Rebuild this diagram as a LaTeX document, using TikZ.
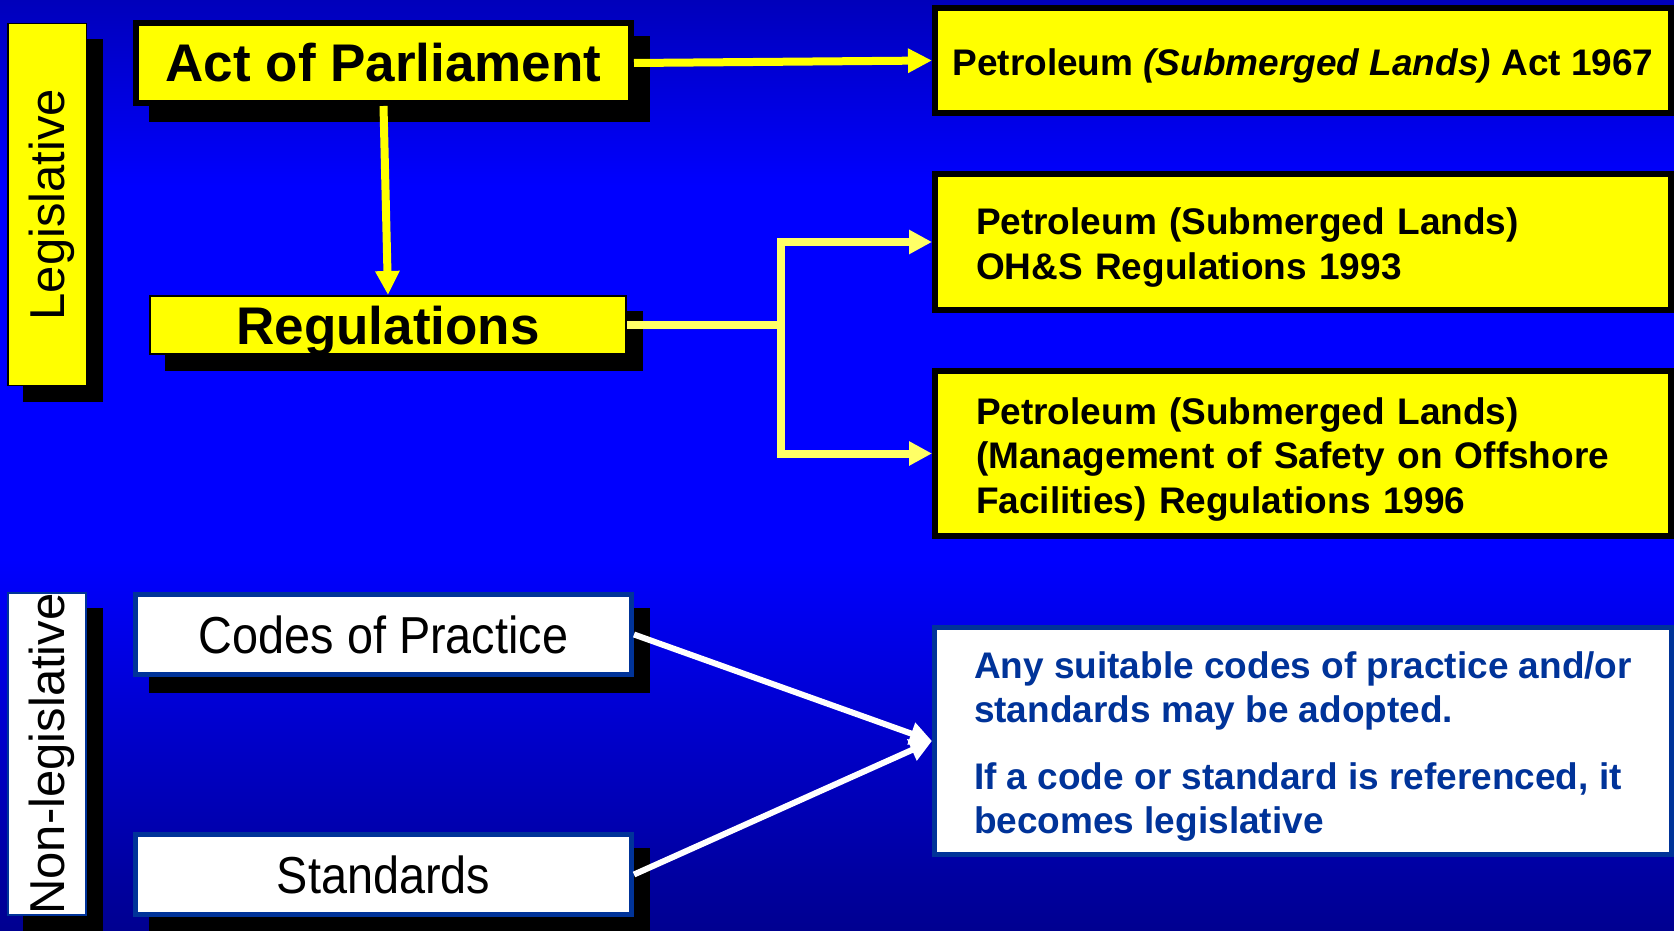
\documentclass[tikz,border=0pt]{standalone}
\usepackage{fontspec}
\setmainfont{Liberation Sans}
\newfontfamily\narrowsans[FakeStretch=0.9]{Liberation Sans}
\usepackage{graphicx}
\usepackage{tikz}
\usetikzlibrary{calc}
\usetikzlibrary{arrows.meta}
\usetikzlibrary{backgrounds}

\definecolor{slidetop}{HTML}{0000BB}
\definecolor{slideblue}{HTML}{0000FF}
\definecolor{slidebottom}{HTML}{000090}
\definecolor{lawyellow}{HTML}{FFFF00}
\definecolor{paleyellow}{HTML}{FFFF66}
\definecolor{navytext}{HTML}{003399}

\pgfdeclareverticalshading{slidebg}{100bp}{color(0bp)=(slidebottom); color(25bp)=(slidebottom); color(45bp)=(slideblue); color(65bp)=(slideblue); color(75bp)=(slidetop); color(100bp)=(slidetop)}

% first line strut, pushes box text a little down
\newcommand{\toprule}{\rule{0pt}{38pt}}
% rotated side label, arguments: text
\newcommand{\sidetext}[1]{\rotatebox{90}{\rule{0pt}{46pt}#1}}

\begin{document}
\begin{tikzpicture}[x=1pt, y=-1pt]

% arguments: name of box
\newcommand{\castshadow}[1]{%
\fill [black] ($ (#1.north west) + (16, 16) $) rectangle ($ (#1.south east) + (16, 16) $) ;
}

\tikzset{%
lawbox/.style={rectangle, fill=lawyellow, draw=black, inner sep=0pt, text=black},
codebox/.style={rectangle, fill=white, draw=navytext, inner sep=0pt},
sidelabel/.style={font=\fontsize{49}{55}\selectfont},
headlabel/.style={font=\fontsize{53}{60}\selectfont\bfseries, text height=38pt, text depth=0pt},
codelabel/.style={font=\narrowsans\fontsize{52}{60}\selectfont, text height=37pt, text depth=0pt},
actlabel/.style={font=\fontsize{37}{44.5}\selectfont\bfseries},
lawarrow/.style={draw=lawyellow, line width=8pt, -{Triangle[length=24pt, width=23pt]}},
splitline/.style={draw=paleyellow, line width=8pt},
splitarrow/.style={splitline, -{Triangle[length=23pt, width=23pt]}},
notearrow/.style={draw=white, line width=6pt, -{Triangle[length=22pt, width=22pt]}}%
}

\useasboundingbox (0, 0) rectangle (1674, 931) ;

% legislative side

\path (47, 204.5) node [lawbox, sidelabel, line width=1.5pt, minimum width=78.5, minimum height=361.5] (leg) {\sidetext{Legislative}} ;

\path (383.5, 63) node [lawbox, headlabel, line width=6pt, minimum width=495, minimum height=80] (act) {Act of Parliament} ;

\path (388, 325) node [lawbox, headlabel, line width=2pt, minimum width=476, minimum height=58] (regs) {Regulations} ;

\path (1303, 60.5) node [lawbox, actlabel, line width=6pt, minimum width=736, minimum height=105] (pslact) {\toprule Petroleum \textit{(Submerged Lands)} Act 1967} ;

\path (1303, 242) node [lawbox, actlabel, line width=6pt, minimum width=736, minimum height=136, text width=654, align=left] (ohs) {\toprule Petroleum (Submerged Lands)\\OH\&S Regulations 1993} ;

\path (1303, 453.5) node [lawbox, actlabel, line width=6pt, minimum width=736, minimum height=165, text width=654, align=left] (mos) {\toprule Petroleum (Submerged Lands)\\(Management of Safety on Offshore\\Facilities) Regulations 1996} ;

% non-legislative side

\path (47, 754) node [codebox, sidelabel, line width=2pt, minimum width=78, minimum height=318] (nonleg) {\sidetext{Non-legislative}} ;

\path (383.5, 634.5) node [codebox, codelabel, line width=5pt, minimum width=496, minimum height=80] (codes) {Codes of Practice} ;

\path (383.5, 874.5) node [codebox, codelabel, line width=5pt, minimum width=496, minimum height=80] (stds) {Standards} ;

\path (1303, 741) node [codebox, actlabel, text=navytext, line width=5pt, minimum width=737, minimum height=227, align=left] (note) {\toprule Any suitable codes of practice and/or\\standards may be adopted.\\[22pt]If a code or standard is referenced, it\\becomes legislative} ;

% draw connectors

\draw [lawarrow] (act.east) -- (pslact.west) ;
\draw [lawarrow] (act.south) -- (regs.north) ;

\path (781, 325) node [shape=coordinate] (split) {} ;
\draw [splitline] (regs.east) -- (split) ;
\draw [splitarrow] (split) |- (ohs.west) ;
\draw [splitarrow] (split) |- (mos.west) ;

\draw [notearrow] (codes.east) -- (note.west) ;
\draw [notearrow] (stds.east) -- (note.west) ;

% background and shadows

\begin{pgfonlayer}{background}
\shade [shading=slidebg] (0, 0) rectangle (1674, 931) ;
\castshadow{leg}
\castshadow{act}
\castshadow{regs}
\castshadow{nonleg}
\castshadow{codes}
\castshadow{stds}
\end{pgfonlayer}

\end{tikzpicture}
\end{document}
